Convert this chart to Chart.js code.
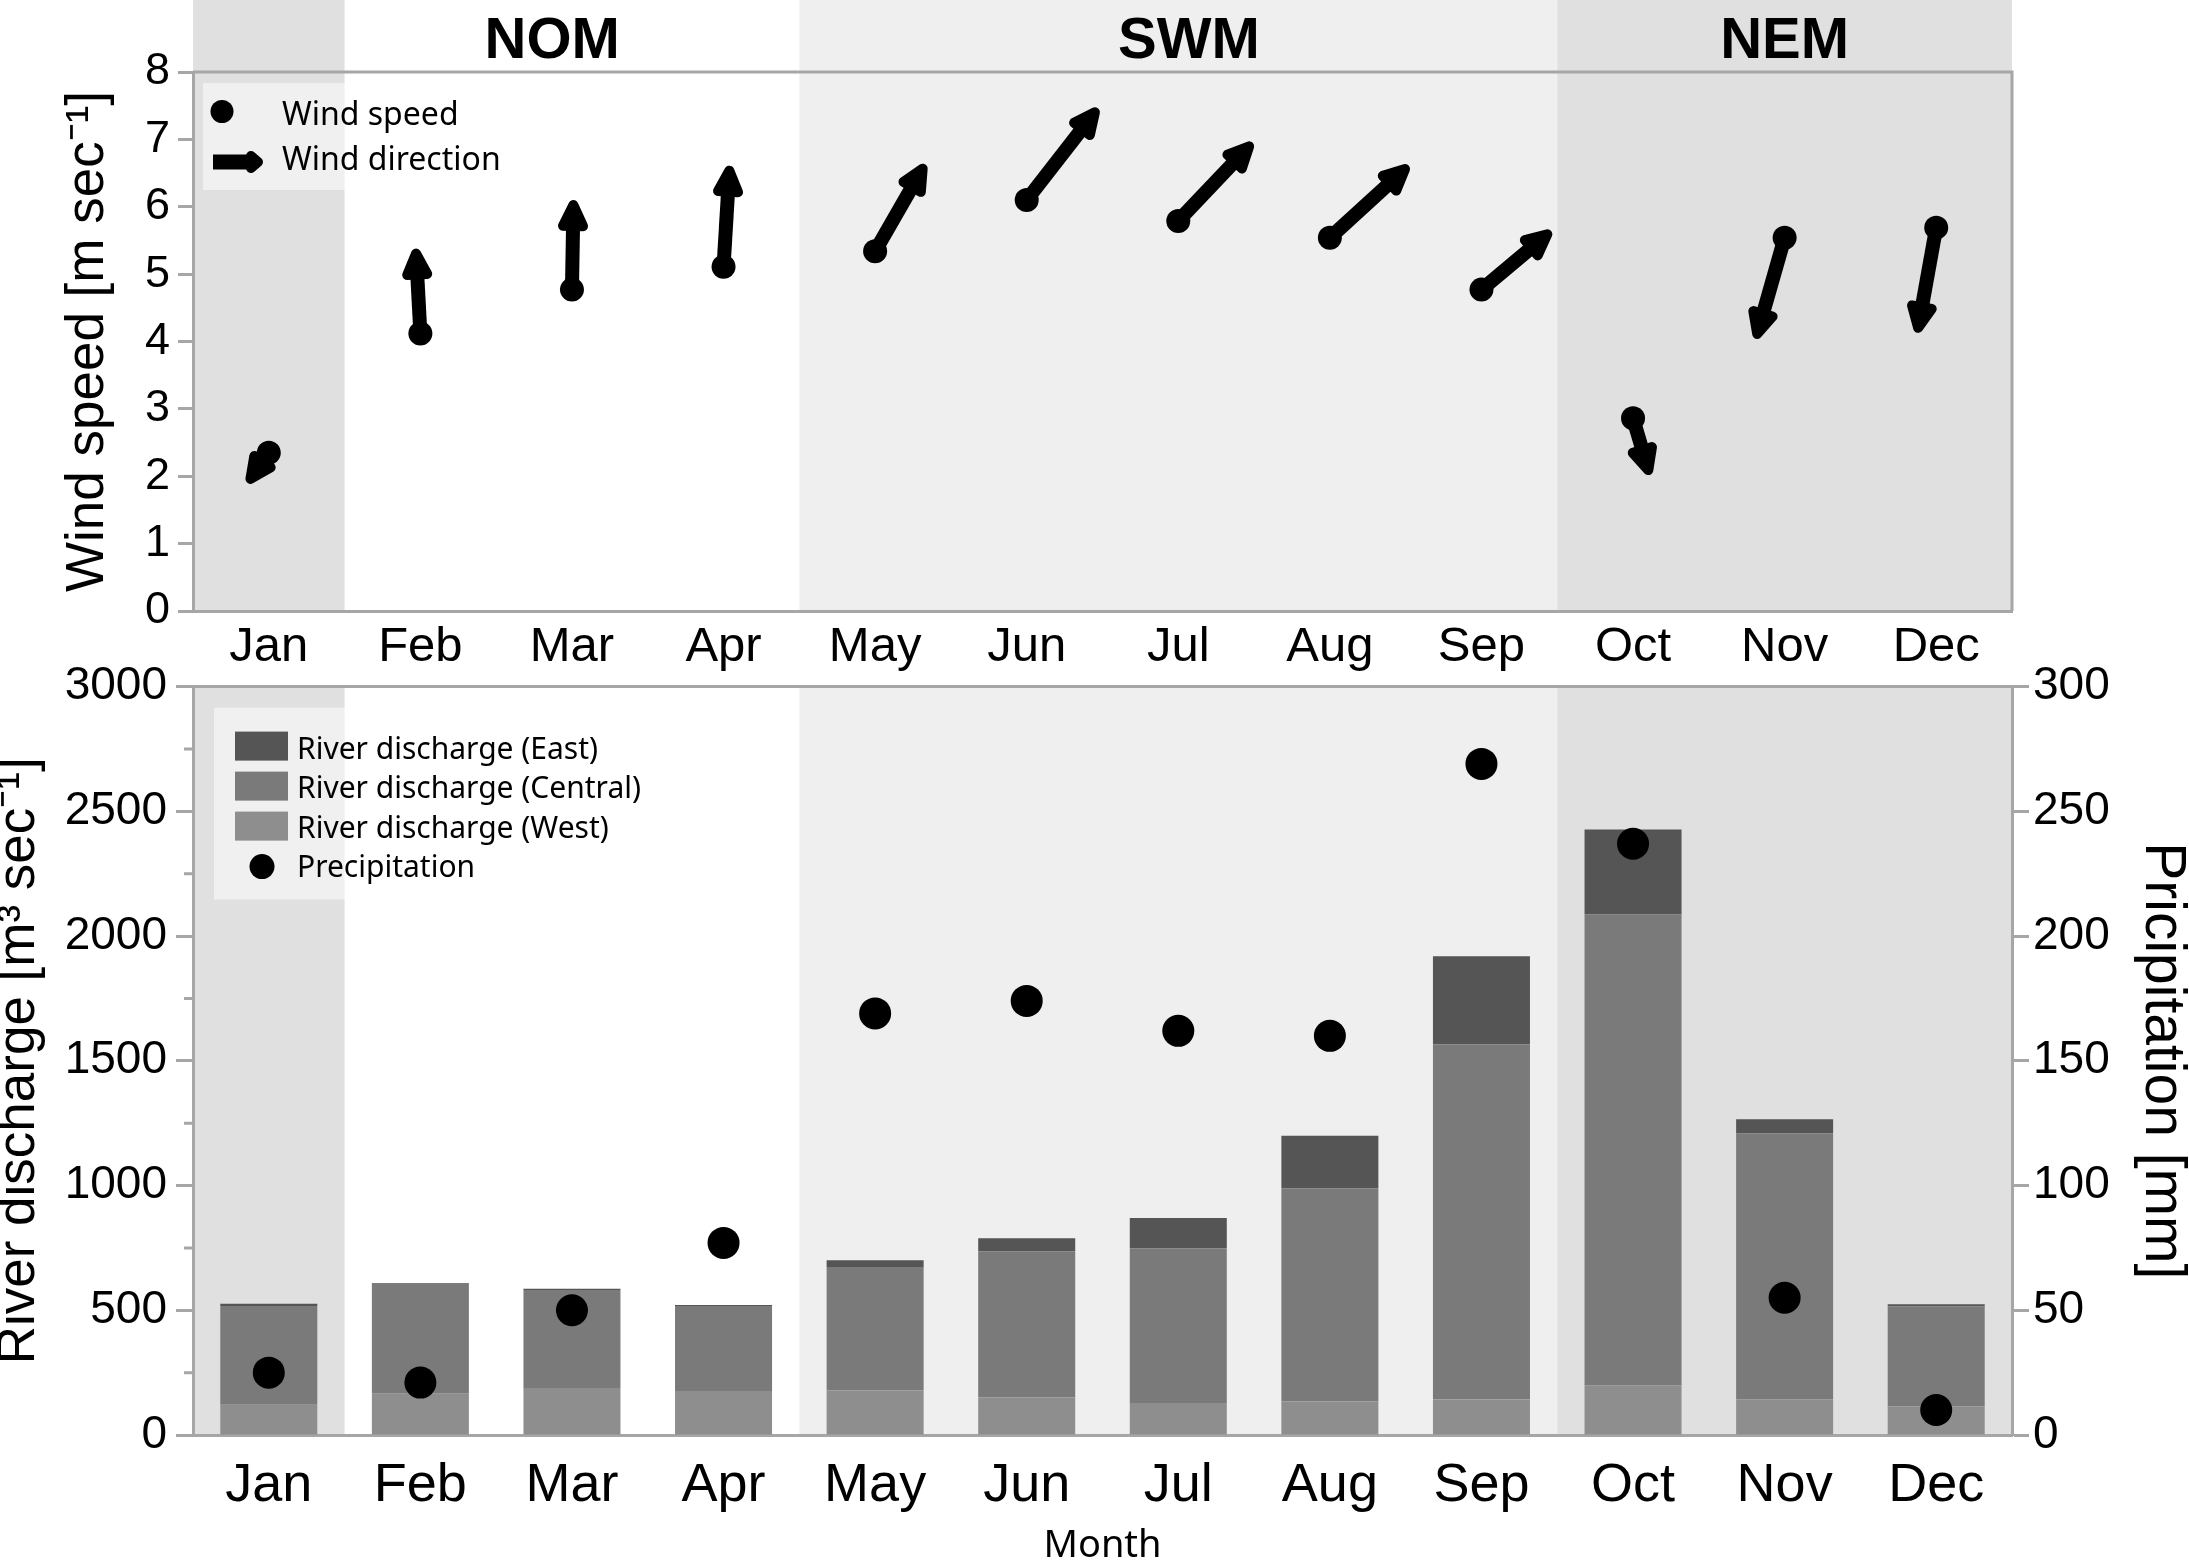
<!DOCTYPE html>
<html>
<head>
<meta charset="utf-8">
<title>Wind, river discharge and precipitation</title>
<script src="https://cdn.jsdelivr.net/npm/chart.js@4.4.1/dist/chart.umd.min.js"></script>
<style>
  html, body { margin: 0; padding: 0; background: #fff; }
  #wrap { position: relative; width: 2189px; height: 1560px; overflow: hidden; }
  #wind { position: absolute; left: 0; top: 0; }
  #river { position: absolute; left: 0; top: 650px; }
</style>
</head>
<body>
<div id="wrap">
  <canvas id="wind" width="2189" height="672"></canvas>
  <canvas id="river" width="2189" height="910"></canvas>
</div>
<script>
// ---- data ----
const months = ['Jan', 'Feb', 'Mar', 'Apr', 'May', 'Jun', 'Jul', 'Aug', 'Sep', 'Oct', 'Nov', 'Dec'];

// wind speed (m/s) at the dot, and where the arrow head ends
const windSpeed     = [2.35, 4.12, 4.77, 5.11, 5.34, 6.10, 5.79, 5.54, 4.77, 2.86, 5.54, 5.69];
const windHeadShift = [-0.14, -0.03, 0.01, 0.04, 0.33, 0.47, 0.49, 0.52, 0.46, 0.11, -0.19, -0.125]; // in months
const windHeadSpeed = [1.90, 5.38, 6.10, 6.61, 6.63, 7.46, 6.95, 6.61, 5.64, 2.02, 4.04, 4.13];

// river discharge (m3/s), stacked West -> Central -> East
const dischargeWest    = [121, 165, 188, 176, 178, 151, 128, 135, 142, 199, 142, 114];
const dischargeCentral = [396, 441, 393, 341, 492, 585, 621, 854, 1424, 1887, 1067, 401];
const dischargeEast    = [9, 3, 5, 4, 30, 53, 121, 211, 353, 341, 57, 9];

// precipitation (mm)
const precipitation = [25, 21, 50, 77, 169, 174, 162, 160, 269, 237, 55, 10];

// shaded month ranges and the monsoon names above them
const bandFirst = [0, 4, 9];
const bandLast  = [0, 8, 11];
const bandFill  = ['#e0e0e0', '#efefef', '#e0e0e0'];
const seasonNames = ['NOM', 'SWM', 'NEM'];
const seasonAt    = [1.87, 6.07, 10];

const windLegend = ['Wind speed', 'Wind direction'];

// ---- styles ----
const ARIAL = "'Liberation Sans', Arial, sans-serif";
const SEGOE = "'Noto Sans', 'Open Sans', sans-serif";
const AXIS = '#a6a6a6';

const bandPlugin = {
  id: 'bands',
  beforeDraw(chart, args, opts) {
    const { ctx, chartArea: a, scales: { x } } = chart;
    const top = opts.header ? 0 : a.top;
    ctx.save();
    for (let i = 0; i < bandFirst.length; i++) {
      const x0 = x.getPixelForValue(bandFirst[i] - 0.5);
      const x1 = x.getPixelForValue(bandLast[i] + 0.5);
      ctx.fillStyle = bandFill[i];
      ctx.fillRect(x0, top, x1 - x0, a.bottom - top);
    }
    if (opts.header) {
      ctx.fillStyle = '#000';
      ctx.font = 'bold 58px ' + ARIAL;
      ctx.textAlign = 'center';
      ctx.textBaseline = 'alphabetic';
      seasonNames.forEach((s, i) => ctx.fillText(s, x.getPixelForValue(seasonAt[i]), a.top - 14));
    }
    ctx.restore();
  },
  afterDraw(chart, args, opts) {
    const { ctx, chartArea: a } = chart;
    ctx.save();
    ctx.strokeStyle = AXIS;
    ctx.lineWidth = 3;
    ctx.beginPath();
    ctx.moveTo(a.left, a.top);
    ctx.lineTo(a.right + 1.5, a.top);
    if (opts.rightEdge) {
      ctx.moveTo(a.right, a.top);
      ctx.lineTo(a.right, a.bottom);
    }
    ctx.stroke();
    ctx.restore();
  }
};

function drawArrow(ctx, x0, y0, x1, y1, shaft, headLen, headHalf) {
  const len = Math.hypot(x1 - x0, y1 - y0);
  const ux = (x1 - x0) / len, uy = (y1 - y0) / len;
  const px = -uy, py = ux;
  const r = 5;
  const bx = x1 - ux * headLen, by = y1 - uy * headLen;
  ctx.beginPath();
  ctx.moveTo(x0, y0);
  ctx.lineTo(bx + ux * 3, by + uy * 3);
  ctx.lineWidth = shaft;
  ctx.lineCap = 'butt';
  ctx.stroke();
  ctx.beginPath();
  ctx.moveTo(x1 - ux * r, y1 - uy * r);
  ctx.lineTo(bx + ux * r + px * (headHalf - r), by + uy * r + py * (headHalf - r));
  ctx.lineTo(bx + ux * r - px * (headHalf - r), by + uy * r - py * (headHalf - r));
  ctx.closePath();
  ctx.lineWidth = r * 2;
  ctx.lineJoin = 'round';
  ctx.fill();
  ctx.stroke();
}

const arrowPlugin = {
  id: 'windArrows',
  beforeDatasetsDraw(chart) {
    const { ctx, scales: { x, y } } = chart;
    ctx.save();
    ctx.fillStyle = '#000';
    ctx.strokeStyle = '#000';
    windSpeed.forEach((v, i) => {
      drawArrow(ctx, x.getPixelForValue(i), y.getPixelForValue(v),
        x.getPixelForValue(i + windHeadShift[i]), y.getPixelForValue(windHeadSpeed[i]), 14, 31, 15);
    });
    ctx.restore();
  }
};

const windLegendPlugin = {
  id: 'windLegend',
  afterDraw(chart) {
    const { ctx, chartArea: a } = chart;
    ctx.save();
    ctx.fillStyle = 'rgba(255,255,255,0.5)';
    ctx.fillRect(a.left + 10, a.top + 11, 330, 107);
    ctx.fillStyle = '#000';
    ctx.strokeStyle = '#000';
    ctx.beginPath();
    ctx.arc(a.left + 29, a.top + 39.5, 11.5, 0, Math.PI * 2);
    ctx.fill();
    drawArrow(ctx, a.left + 20, a.top + 90, a.left + 70, a.top + 90, 15, 17, 11);
    ctx.font = '32px ' + SEGOE;
    ctx.textAlign = 'left';
    ctx.textBaseline = 'alphabetic';
    ctx.fillText(windLegend[0], a.left + 89, a.top + 52.7);
    ctx.fillText(windLegend[1], a.left + 89, a.top + 97.7);
    ctx.restore();
  }
};

const riverLegendPlugin = {
  id: 'riverLegend',
  afterDraw(chart) {
    const { ctx, chartArea: a, scales: { y } } = chart;
    ctx.save();
    // short minor ticks on the discharge axis
    ctx.strokeStyle = AXIS;
    ctx.lineWidth = 3;
    ctx.beginPath();
    y.ticks.forEach(t => {
      if (t.value % 500 !== 0) {
        const py = y.getPixelForValue(t.value);
        ctx.moveTo(a.left - 9, py);
        ctx.lineTo(a.left, py);
      }
    });
    ctx.stroke();

    ctx.fillStyle = 'rgba(255,255,255,0.5)';
    ctx.fillRect(a.left + 21, a.top + 21, 440, 192);
    const ds = chart.data.datasets;
    const bars = ds.filter(d => d.type !== 'line').reverse();
    const dots = ds.filter(d => d.type === 'line');
    ctx.font = '30px ' + SEGOE;
    ctx.textAlign = 'left';
    ctx.textBaseline = 'alphabetic';
    bars.forEach((d, i) => {
      ctx.fillStyle = d.backgroundColor;
      ctx.fillRect(a.left + 42, a.top + 45 + 40 * i, 53, 29);
      ctx.fillStyle = '#000';
      ctx.fillText(d.label, a.left + 104, a.top + 72 + 39.5 * i);
    });
    dots.forEach((d, j) => {
      const i = bars.length + j;
      ctx.fillStyle = '#000';
      ctx.beginPath();
      ctx.arc(a.left + 69, a.top + 180, 12.5, 0, Math.PI * 2);
      ctx.fill();
      ctx.fillText(d.label, a.left + 104, a.top + 72 + 39.5 * i);
    });
    ctx.restore();
  }
};

// ---- top: wind ----
new Chart(document.getElementById('wind'), {
  type: 'line',
  data: {
    labels: months,
    datasets: [{
      label: 'Wind speed',
      data: windSpeed,
      showLine: false,
      pointRadius: 12,
      pointHoverRadius: 12,
      pointBorderWidth: 0,
      pointBackgroundColor: '#000',
      borderColor: '#000'
    }]
  },
  options: {
    responsive: false,
    animation: false,
    devicePixelRatio: 1,
    events: [],
    layout: { padding: { left: 0, right: 177, top: 72, bottom: 0 } },
    plugins: {
      legend: { display: false },
      tooltip: { enabled: false },
      bands: { header: true, rightEdge: true }
    },
    scales: {
      x: {
        offset: true,
        grid: { display: false, drawTicks: false },
        border: { display: true, color: AXIS, width: 3 },
        ticks: { color: '#000', font: { family: ARIAL, size: 49 }, padding: 7, maxRotation: 0, autoSkip: false },
        afterFit: s => { s.height = 61; }
      },
      y: {
        min: 0,
        max: 8,
        ticks: { stepSize: 1, color: '#000', font: { family: ARIAL, size: 45 }, padding: 8 },
        grid: { drawOnChartArea: false, tickLength: 15, tickWidth: 3, tickColor: AXIS },
        border: { color: AXIS, width: 3 },
        title: {
          display: true,
          text: 'Wind speed [m sec⁻¹]',
          color: '#000',
          font: { family: ARIAL, size: 53, lineHeight: 1 },
          padding: { top: 62, bottom: 0 }
        },
        afterFit: s => { s.width = 193; }
      }
    }
  },
  plugins: [bandPlugin, arrowPlugin, windLegendPlugin]
});

// ---- bottom: river discharge + precipitation ----
new Chart(document.getElementById('river'), {
  type: 'bar',
  data: {
    labels: months,
    datasets: [
      { type: 'line', label: 'Precipitation', data: precipitation, yAxisID: 'y2', showLine: false,
        pointRadius: 16, pointHoverRadius: 16, pointBorderWidth: 0, pointBackgroundColor: '#000',
        borderColor: '#000', order: 0 },
      { label: 'River discharge (West)', data: dischargeWest, backgroundColor: '#8e8e8e', order: 1 },
      { label: 'River discharge (Central)', data: dischargeCentral, backgroundColor: '#7a7a7a', order: 1 },
      { label: 'River discharge (East)', data: dischargeEast, backgroundColor: '#555555', order: 1 }
    ]
  },
  options: {
    responsive: false,
    animation: false,
    devicePixelRatio: 1,
    events: [],
    barPercentage: 0.64,
    categoryPercentage: 1.0,
    layout: { padding: { left: 0, right: 0, top: 33, bottom: 0 } },
    plugins: {
      legend: { display: false },
      tooltip: { enabled: false },
      bands: { header: false, rightEdge: false }
    },
    scales: {
      x: {
        stacked: true,
        grid: { display: false, drawTicks: false },
        border: { display: true, color: AXIS, width: 3 },
        ticks: { color: '#000', font: { family: ARIAL, size: 54 }, padding: 19, maxRotation: 0, autoSkip: false },
        title: {
          display: true,
          text: 'Month',
          color: '#000',
          font: { family: SEGOE, size: 38, lineHeight: 0.75 },
          padding: { top: 0, bottom: 0 }
        },
        afterFit: s => { s.height = 125; }
      },
      y: {
        stacked: true,
        min: 0,
        max: 3000,
        ticks: {
          stepSize: 250,
          autoSkip: false,
          color: '#000',
          font: { family: ARIAL, size: 46 },
          padding: 9,
          callback: v => (v % 500 === 0 ? v : '')
        },
        grid: {
          drawOnChartArea: false,
          tickLength: 17,
          tickWidth: 3,
          tickColor: c => (c.tick && c.tick.value % 500 === 0 ? AXIS : 'rgba(0,0,0,0)')
        },
        border: { color: AXIS, width: 3 },
        title: {
          display: true,
          text: 'River discharge [m³ sec⁻¹]',
          color: '#000',
          font: { family: ARIAL, size: 53, lineHeight: 0.75 },
          padding: { top: 0, bottom: 0 }
        },
        afterFit: s => { s.width = 193; }
      },
      y2: {
        position: 'right',
        min: 0,
        max: 300,
        ticks: { stepSize: 50, color: '#000', font: { family: ARIAL, size: 46 }, padding: 4 },
        grid: { drawOnChartArea: false, tickLength: 17, tickWidth: 3, tickColor: AXIS },
        border: { color: AXIS, width: 3 },
        title: {
          display: true,
          text: 'Pricipitation [mm]',
          color: '#000',
          font: { family: ARIAL, size: 57, lineHeight: 0.95 },
          padding: { top: 0, bottom: 0 }
        },
        afterFit: s => { s.width = 177; }
      }
    }
  },
  plugins: [bandPlugin, riverLegendPlugin]
});
</script>
</body>
</html>
